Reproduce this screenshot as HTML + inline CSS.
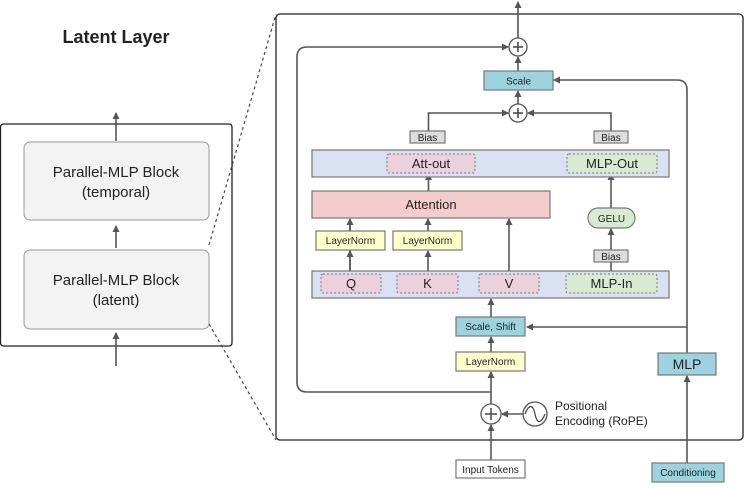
<!DOCTYPE html>
<html><head><style>
html,body{margin:0;padding:0;background:#fff;}
svg{display:block;font-family:"Liberation Sans",sans-serif;}
</style></head><body>
<svg width="753" height="489" viewBox="0 0 753 489" xmlns="http://www.w3.org/2000/svg">
<defs>
<marker id="a" markerWidth="8" markerHeight="8" refX="6" refY="4" orient="auto" markerUnits="userSpaceOnUse">
<path d="M0,0.5 L7,4 L0,7.5 z" fill="#555"/></marker>
</defs>
<g stroke="#555" stroke-width="1.6" fill="none">
<!-- left -->
<rect x="0.5" y="124" width="231.5" height="222" rx="3" stroke="#222" stroke-width="1.3"/>
<line x1="116" y1="141" x2="116" y2="113" marker-end="url(#a)"/>
<line x1="116" y1="248" x2="116" y2="226" marker-end="url(#a)"/>
<line x1="116" y1="366" x2="116" y2="333" marker-end="url(#a)"/>
<line x1="209" y1="245" x2="276" y2="14" stroke-dasharray="3,3" stroke-width="1.2" stroke="#444"/>
<line x1="209" y1="324" x2="276" y2="440" stroke-dasharray="3,3" stroke-width="1.2" stroke="#444"/>
<!-- right outer -->
<rect x="276" y="14" width="467" height="426" rx="4" stroke="#222" stroke-width="1.3"/>
<line x1="518" y1="38" x2="518" y2="2" marker-end="url(#a)"/>
<path d="M491,392 L307,392 Q297,392 297,382 L297,57 Q297,47 307,47 L508,47" marker-end="url(#a)"/>
<line x1="518" y1="71" x2="518" y2="57" marker-end="url(#a)"/>
<path d="M687,353 L687,90 Q687,80 677,80 L554,80" marker-end="url(#a)"/>
<line x1="687" y1="327" x2="527" y2="327" marker-end="url(#a)"/>
<line x1="518" y1="104" x2="518" y2="91" marker-end="url(#a)"/>
<path d="M428.5,131 L428.5,113 L508,113" marker-end="url(#a)"/>
<path d="M611,131 L611,113 L528,113" marker-end="url(#a)"/>
<line x1="428.5" y1="191" x2="428.5" y2="174" marker-end="url(#a)"/>
<line x1="611" y1="208" x2="611" y2="174" marker-end="url(#a)"/>
<line x1="611" y1="250" x2="611" y2="229" marker-end="url(#a)"/>
<line x1="611" y1="274" x2="611" y2="262"/>
<line x1="350" y1="274" x2="350" y2="219" />
<line x1="350" y1="231" x2="350" y2="219" marker-end="url(#a)"/>
<line x1="428" y1="274" x2="428" y2="251" marker-end="url(#a)"/>
<line x1="350" y1="274" x2="350" y2="251" marker-end="url(#a)"/>
<line x1="428" y1="231" x2="428" y2="219" marker-end="url(#a)"/>
<line x1="509" y1="274" x2="509" y2="219" marker-end="url(#a)"/>
<line x1="491" y1="317" x2="491" y2="299" marker-end="url(#a)"/>
<line x1="491" y1="352" x2="491" y2="337" marker-end="url(#a)"/>
<line x1="491" y1="404" x2="491" y2="372" marker-end="url(#a)"/>
<line x1="491" y1="460" x2="491" y2="425" marker-end="url(#a)"/>
<line x1="523" y1="414" x2="502" y2="414" marker-end="url(#a)"/>
<line x1="687" y1="463" x2="687" y2="376" marker-end="url(#a)"/>
</g>
<!-- left blocks -->
<rect x="24" y="142" width="185" height="78" rx="6" fill="#f3f3f3" stroke="#999"/>
<rect x="24" y="250" width="185" height="79" rx="6" fill="#f3f3f3" stroke="#999"/>
<text x="116" y="43" font-size="18" font-weight="bold" text-anchor="middle" fill="#222">Latent Layer</text>
<g font-size="15" fill="#222" text-anchor="middle">
<text x="116" y="177">Parallel-MLP Block</text><text x="116" y="197">(temporal)</text>
<text x="116" y="285">Parallel-MLP Block</text><text x="116" y="305">(latent)</text>
</g>
<!-- plus circles -->
<g fill="#fff" stroke="#555" stroke-width="1.3">
<circle cx="518" cy="47" r="9"/><circle cx="518" cy="113" r="9"/><circle cx="491" cy="414" r="10"/>
<circle cx="535" cy="414" r="12"/>
</g>
<g stroke="#444" stroke-width="1.5" fill="none">
<path d="M513,47 h10 M518,42 v10 M513,113 h10 M518,108 v10 M485,414 h12 M491,408 v12"/>
<path d="M525,414 C529,404 533,404 535,414 C537,424 541,424 545,414" stroke-width="1.2"/>
</g>
<!-- boxes -->
<g stroke="#777" stroke-width="1.2">
<rect x="484" y="71" width="69" height="19" fill="#9dd3df"/>
<rect x="410" y="131" width="35" height="12" fill="#ddd"/>
<rect x="594" y="131" width="34" height="12" fill="#ddd"/>
<rect x="594" y="250" width="34" height="12" fill="#ddd"/>
<rect x="312" y="150" width="357" height="27" fill="#d9e1f2"/>
<rect x="312" y="191" width="238" height="27" fill="#f4cccc"/>
<rect x="588" y="208" width="47" height="20" rx="10" fill="#d9ead3"/>
<rect x="316" y="231" width="69" height="19" fill="#ffffcc"/>
<rect x="393" y="231" width="69" height="19" fill="#ffffcc"/>
<rect x="312" y="271" width="357" height="27" fill="#d9e1f2"/>
<rect x="456" y="317" width="69" height="19" fill="#9dd3df"/>
<rect x="456" y="352" width="69" height="19" fill="#ffffcc"/>
<rect x="456" y="460" width="69" height="18" fill="#fff"/>
<rect x="652" y="463" width="72" height="19" fill="#9dd3df"/>
<rect x="658" y="353" width="58" height="22" fill="#9dd3df"/>
</g>
<g stroke="#777" stroke-width="1" stroke-dasharray="2,2">
<rect x="387" y="154" width="88" height="19" rx="2" fill="#ead1dc"/>
<rect x="567" y="154" width="90" height="19" rx="2" fill="#d9ead3"/>
<rect x="321" y="274" width="60" height="19" rx="2" fill="#ead1dc"/>
<rect x="397" y="274" width="61" height="19" rx="2" fill="#ead1dc"/>
<rect x="479" y="274" width="60" height="19" rx="2" fill="#ead1dc"/>
<rect x="566" y="274" width="91" height="19" rx="2" fill="#d9ead3"/>
</g>
<g fill="#222" text-anchor="middle">
<g font-size="10">
<text x="518.5" y="84.5">Scale</text>
<text x="427.5" y="141">Bias</text><text x="611" y="141">Bias</text><text x="611" y="260">Bias</text>
<text x="611.5" y="222">GELU</text>
<text x="350.5" y="244">LayerNorm</text><text x="427.5" y="244">LayerNorm</text>
<text x="490.5" y="330">Scale, Shift</text><text x="490.5" y="365">LayerNorm</text>
<text x="490.5" y="473">Input Tokens</text><text x="688" y="476">Conditioning</text>
</g>
<g font-size="13">
<text x="431" y="168">Att-out</text><text x="612" y="168">MLP-Out</text>
<text x="431" y="209">Attention</text>
<text x="351" y="288">Q</text><text x="427.5" y="288">K</text><text x="509" y="288">V</text><text x="611.5" y="288">MLP-In</text>
<text x="687" y="369" font-size="14">MLP</text>
</g>
<g font-size="12" text-anchor="start">
<text x="555" y="410">Positional</text><text x="555" y="425">Encoding (RoPE)</text>
</g>
</g>
</svg>
</body></html>
